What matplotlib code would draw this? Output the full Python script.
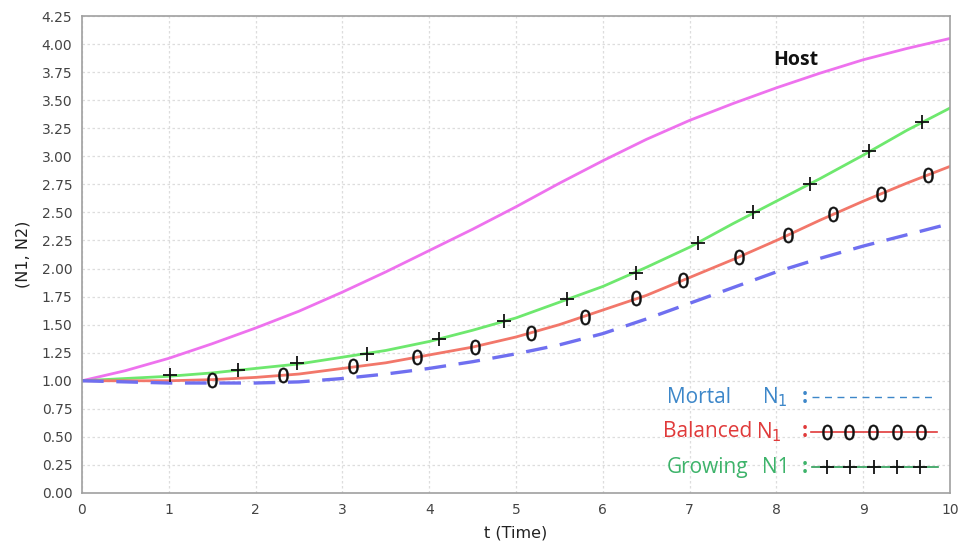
import matplotlib
matplotlib.use("Agg")
import matplotlib.pyplot as plt

# ---- data ----
t = [0, 0.5, 1, 1.5, 2, 2.5, 3, 3.5, 4, 4.5, 5, 5.5, 6, 6.5, 7, 7.5, 8, 8.5, 9, 9.5, 10]
host = [1.00, 1.09, 1.20, 1.33, 1.47, 1.62, 1.79, 1.97, 2.16, 2.35, 2.55, 2.76, 2.96, 3.15,
        3.32, 3.47, 3.61, 3.74, 3.86, 3.96, 4.05]
growing = [1.00, 1.02, 1.04, 1.07, 1.11, 1.15, 1.21, 1.27, 1.35, 1.45, 1.56, 1.70, 1.84, 2.01,
           2.19, 2.40, 2.60, 2.80, 3.01, 3.23, 3.43]
balanced = [1.00, 1.00, 1.00, 1.01, 1.03, 1.06, 1.11, 1.16, 1.23, 1.30, 1.39, 1.50, 1.63, 1.76,
            1.92, 2.08, 2.25, 2.43, 2.60, 2.76, 2.91]
mortal = [1.00, 0.99, 0.98, 0.98, 0.98, 0.99, 1.02, 1.06, 1.11, 1.17, 1.24, 1.32, 1.42, 1.55,
          1.69, 1.83, 1.97, 2.09, 2.20, 2.30, 2.40]

growing_mark_t = [1.01, 1.80, 2.48, 3.28, 4.11, 4.86, 5.59, 6.38, 7.10, 7.73, 8.39, 9.07, 9.68]
growing_mark_v = [1.05, 1.10, 1.16, 1.24, 1.37, 1.53, 1.73, 1.96, 2.23, 2.50, 2.75, 3.05, 3.31]
balanced_mark_t = [1.50, 2.32, 3.12, 3.86, 4.53, 5.17, 5.79, 6.38, 6.92, 7.57, 8.13, 8.65, 9.20, 9.75]
balanced_mark_v = [1.01, 1.05, 1.13, 1.21, 1.30, 1.43, 1.57, 1.74, 1.90, 2.10, 2.30, 2.49, 2.66, 2.83]

x_ticks = list(range(0, 11))
y_ticks = [0.00, 0.25, 0.50, 0.75, 1.00, 1.25, 1.50, 1.75, 2.00, 2.25, 2.50, 2.75, 3.00,
           3.25, 3.50, 3.75, 4.00, 4.25]

c_host = "#ee72ee"
c_green = "#6ee86e"
c_red = "#f2776a"
c_blue = "#6f6ff0"

plt.rcParams['font.family'] = ['DejaVu Sans']

fig = plt.figure(figsize=(9.62, 5.41), dpi=100)
ax = fig.add_axes([82/962, 1-493/541, 868/962, 477/541])

ax.plot(t, host, color=c_host, lw=2)
ax.plot(t, growing, color=c_green, lw=2)
ax.plot(t, balanced, color=c_red, lw=2)
ax.plot(t, mortal, color=c_blue, lw=2.4, dashes=(6.5, 3.8))

ax.plot(growing_mark_t, growing_mark_v, ls='none', marker='+', ms=10, mew=1.3, color='#111111')
ax.plot(balanced_mark_t, balanced_mark_v, ls='none', marker='$0$', ms=11, mew=0.3, color='#111111')

ax.text(0.8225, 0.908, "Host", fontsize=14, fontweight='bold', color='#111111',
        ha='center', va='center', family=['Open Sans', 'DejaVu Sans'], transform=ax.transAxes)

ax.set_xlim(0, 10)
ax.set_ylim(0, 4.25)
ax.set_xticks(x_ticks)
ax.set_yticks(y_ticks)
ax.set_yticklabels([f"{v:.2f}" for v in y_ticks])
ax.tick_params(length=0, pad=7, labelsize=10, colors='#444444')
ax.grid(True, color='#dddddd', ls=(0, (2, 2)), lw=0.9)
for s in ax.spines.values():
    s.set_color('#a0a0a0')
    s.set_linewidth(1.2)

ax.set_xlabel("t (Time)", fontsize=11.5, color='#222222', labelpad=6)
ax.set_ylabel("(N1, N2)", fontsize=11.5, color='#222222', labelpad=8)

# ---- custom legend (axes fraction coordinates) ----
lf = ['Open Sans', 'DejaVu Sans']
tr = ax.transAxes
fs = 15
ax.text(0.674, 0.201, "Mortal", color='#3d87c9', fontsize=fs, va='center', transform=tr, family=lf)
ax.text(0.783, 0.201, "N$_1$", color='#3d87c9', fontsize=fs, va='center', transform=tr, family=lf)
ax.text(0.829, 0.201, ":", color='#3d87c9', fontsize=fs, va='center', transform=tr, family=lf,
        fontweight='bold')
ax.plot([0.841, 0.983], [0.201, 0.201], color='#3d87c9', lw=1.0, dashes=(5, 4), transform=tr)

ax.text(0.669, 0.128, "Balanced", color='#e03a3a', fontsize=fs, va='center', transform=tr, family=lf)
ax.text(0.776, 0.128, "N$_1$", color='#e03a3a', fontsize=fs, va='center', transform=tr, family=lf)
ax.text(0.829, 0.128, ":", color='#e03a3a', fontsize=fs, va='center', transform=tr, family=lf,
        fontweight='bold')
ax.plot([0.840, 0.985], [0.128, 0.128], color='#e03a3a', lw=1.2, transform=tr)
ax.plot([0.858, 0.884, 0.911, 0.939, 0.967], [0.128]*5, ls='none', marker='$0$', ms=11,
        mew=0.3, color='#111111', transform=tr)

ax.text(0.674, 0.0545, "Growing", color='#3db36a', fontsize=fs, va='center', transform=tr, family=lf)
ax.text(0.783, 0.0545, "N1", color='#3db36a', fontsize=fs, va='center', transform=tr, family=lf)
ax.text(0.829, 0.0545, ":", color='#3db36a', fontsize=fs, va='center', transform=tr, family=lf,
        fontweight='bold')
ax.plot([0.841, 0.986], [0.0545, 0.0545], color='#2e9e58', lw=1.2, transform=tr)
ax.plot([0.858, 0.885, 0.912, 0.939, 0.965], [0.0545]*5, ls='none', marker='+', ms=10,
        mew=1.3, color='#111111', transform=tr)

fig.savefig("out.png", dpi=100)
